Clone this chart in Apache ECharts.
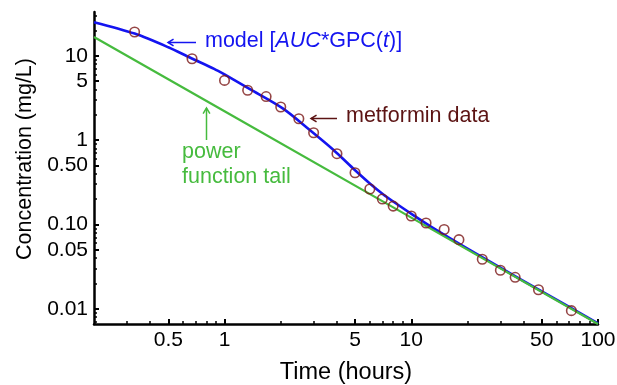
<!DOCTYPE html>
<html>
<head>
<meta charset="utf-8">
<script src="https://cdn.jsdelivr.net/npm/echarts@6/dist/echarts.min.js"></script>
<style>html,body{margin:0;padding:0;background:#fff;}#chart{width:617px;height:385px;}</style>
</head>
<body>
<div id="chart"></div>
<script>
// ---- data ----
const dataTimes = [0.33, 0.67, 1.0, 1.33, 1.67, 2.0, 2.5, 3.0, 4.0, 5.0, 6.0, 7.0, 8.0, 10.0, 12.0, 15.0, 18.0, 24.0, 30.0, 36.0, 48.0, 72.0];
const dataConc  = [19.1, 9.2, 5.1, 3.9, 3.28, 2.47, 1.79, 1.22, 0.69, 0.41, 0.263, 0.20, 0.165, 0.126, 0.104, 0.087, 0.066, 0.0387, 0.0286, 0.0236, 0.0168, 0.0095];
const modelTimes = [0.2, 0.33, 0.5, 0.66, 0.88, 1.0, 1.36, 2.05, 2.86, 3.81, 4.87, 6.0, 7.06, 8.0, 10.2, 13.6, 20, 30, 50, 100];
const modelConc  = [25.0, 18.3, 12.6, 9.4, 7.0, 6.0, 4.05, 2.38, 1.32, 0.775, 0.464, 0.306, 0.228, 0.187, 0.130, 0.0861, 0.0516, 0.0307, 0.0161, 0.0067];
const tailTimes = [0.2, 1, 10, 100];
const tailConc  = [16.7, 2.2, 0.1205, 0.0066];
const xTickValues = [0.5, 1, 5, 10, 50, 100];
const xTickLabels = ['0.5', '1', '5', '10', '50', '100'];
const xMinorValues = [0.3, 0.4, 0.6, 0.7, 0.8, 0.9, 2, 3, 4, 6, 7, 8, 9, 20, 30, 40, 60, 70, 80, 90];
const yTickValues = [0.01, 0.05, 0.1, 0.5, 1, 5, 10];
const yTickLabels = ['0.01', '0.05', '0.10', '0.50', '1', '5', '10'];
const yMinorValues = [0.007, 0.008, 0.009, 0.02, 0.03, 0.04, 0.06, 0.07, 0.08, 0.09, 0.2, 0.3, 0.4, 0.6, 0.7, 0.8, 0.9, 2, 3, 4, 6, 7, 8, 9, 20, 30];
const xRange = [0.2, 100];
const yRange = [0.0066, 33];

// ---- build ----
const L = Math.log10;
const FONT = '"Liberation Sans", Arial, Helvetica, sans-serif';
function fmt(values, labels) {
  return function (v) {
    for (let i = 0; i < values.length; i++) {
      if (Math.abs(L(values[i]) - v) < 1e-6) return labels[i];
    }
    return '';
  };
}
function pairs(ts, cs) { return ts.map((t, i) => [L(t), L(cs[i])]); }

const BLUE = '#1414f0', GREEN = '#46bb3e', BROWN = '#7a1818';

function majorAxis(isX) {
  const vals = isX ? xTickValues : yTickValues;
  const labs = isX ? xTickLabels : yTickLabels;
  const rng = isX ? xRange : yRange;
  return {
    type: 'value', min: L(rng[0]), max: L(rng[1]),
    position: isX ? 'bottom' : 'left',
    axisLine: { show: true, onZero: false, lineStyle: { color: '#000', width: 2.5 } },
    axisTick: { show: true, inside: true, length: 5, customValues: vals.map(L), lineStyle: { color: '#000', width: 2 } },
    axisLabel: { customValues: vals.map(L), formatter: fmt(vals, labs), fontSize: 21, color: '#000', fontFamily: FONT, margin: 6 },
    splitLine: { show: false },
    name: isX ? 'Time (hours)' : 'Concentration (mg/L)',
    nameLocation: 'middle',
    nameGap: isX ? 37 : 56,
    nameTextStyle: isX ? { fontSize: 23.5, color: '#000', fontFamily: FONT }
                       : { fontSize: 21.5, color: '#000', fontFamily: FONT, padding: [0, 0, 0, 18] }
  };
}
function minorAxis(isX) {
  const rng = isX ? xRange : yRange;
  return {
    type: 'value', min: L(rng[0]), max: L(rng[1]),
    position: isX ? 'bottom' : 'left',
    axisLine: { show: false, onZero: false },
    axisTick: { show: true, inside: true, length: 3, customValues: (isX ? xMinorValues : yMinorValues).map(L), lineStyle: { color: '#000', width: 1.5 } },
    axisLabel: { show: false },
    splitLine: { show: false }
  };
}

function arrow(x1, y1, x2, y2, color) {
  const ang = Math.atan2(y2 - y1, x2 - x1);
  const hl = 6.5, hw = 0.55;
  const p1 = [x2 - hl * Math.cos(ang - hw), y2 - hl * Math.sin(ang - hw)];
  const p2 = [x2 - hl * Math.cos(ang + hw), y2 - hl * Math.sin(ang + hw)];
  return [
    { type: 'line', shape: { x1: x1, y1: y1, x2: x2, y2: y2 }, style: { stroke: color, lineWidth: 1.5 }, z: 10 },
    { type: 'polyline', shape: { points: [p1, [x2, y2], p2] }, style: { stroke: color, lineWidth: 1.5, fill: null }, z: 10 }
  ];
}

const chart = echarts.init(document.getElementById('chart'), null, { renderer: 'canvas' });
chart.setOption({
  animation: false,
  backgroundColor: '#fff',
  grid: { left: 94, right: 19, top: 12, bottom: 61, containLabel: false, outerBoundsMode: 'none' },
  xAxis: [majorAxis(true), minorAxis(true)],
  yAxis: [majorAxis(false), minorAxis(false)],
  series: [
    { type: 'line', name: 'model', data: pairs(modelTimes, modelConc), showSymbol: false, smooth: 0.3,
      lineStyle: { color: BLUE, width: 2.6, join: 'round' }, z: 2 },
    { type: 'line', name: 'tail', data: pairs(tailTimes, tailConc), showSymbol: false,
      lineStyle: { color: GREEN, width: 2.2 }, z: 2 },
    { type: 'scatter', name: 'metformin data', data: pairs(dataTimes, dataConc), symbol: 'circle', symbolSize: 9.5,
      itemStyle: { color: 'rgba(255,255,255,0)', borderColor: BROWN, borderWidth: 1.6 }, z: 4 }
  ],
  graphic: [
    { type: 'text', z: 10, style: { x: 205, y: 41, verticalAlign: 'middle', fill: BLUE, fontSize: 21.5, fontFamily: FONT,
      text: '{n|model [}{i|AUC}{n|*GPC(}{i|t}{n|)]}',
      rich: { n: { fill: BLUE, fontSize: 21.5, fontFamily: FONT }, i: { fill: BLUE, fontSize: 21.5, fontFamily: FONT, fontStyle: 'italic' } } } },
    ...arrow(196, 42.5, 168, 42.5, BLUE),
    { type: 'text', z: 10, style: { x: 346, y: 116.5, verticalAlign: 'middle', fill: '#5c1414', fontSize: 21.5, fontFamily: FONT, text: 'metformin data' } },
    ...arrow(337, 118.5, 311, 118.5, '#5c1414'),
    { type: 'text', z: 10, style: { x: 182, y: 152, verticalAlign: 'middle', fill: GREEN, fontSize: 21.5, fontFamily: FONT, text: 'power' } },
    { type: 'text', z: 10, style: { x: 182, y: 177, verticalAlign: 'middle', fill: GREEN, fontSize: 21.5, fontFamily: FONT, text: 'function tail' } },
    ...arrow(206.5, 140, 206.5, 108, GREEN)
  ]
});
</script>
</body>
</html>
